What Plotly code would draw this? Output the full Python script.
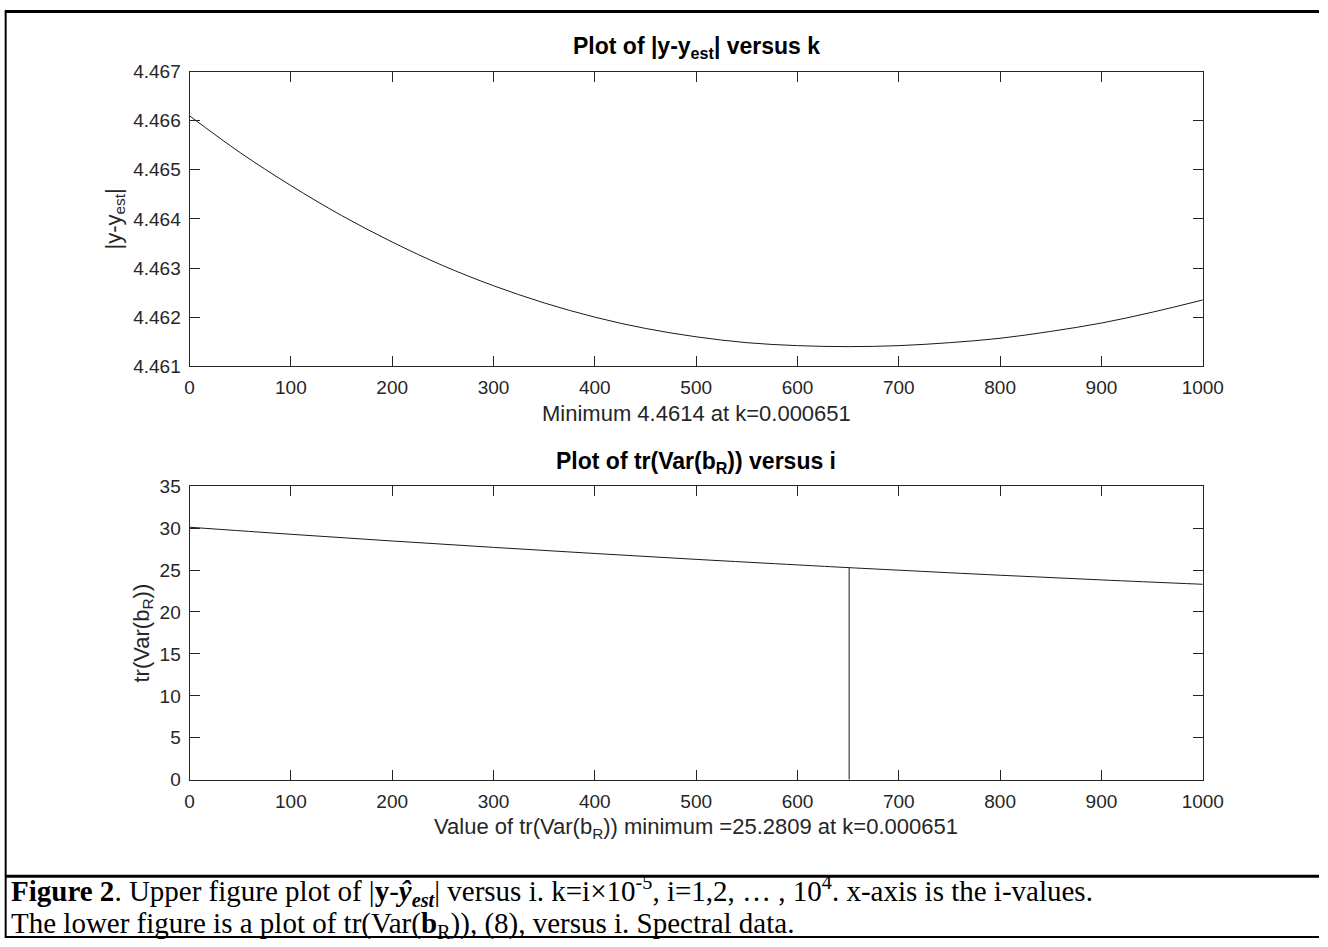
import plotly.graph_objects as go

# ---------------- data ----------------
i_top = [0, 50, 100, 150, 200, 250, 300, 350, 400, 450, 500,
         550, 600, 650, 700, 750, 800, 850, 900, 950, 1000]
resid_norm = [4.46610, 4.46535, 4.46468, 4.46407, 4.46353, 4.46305, 4.46264,
              4.46229, 4.46200, 4.46177, 4.46160, 4.46148, 4.46142, 4.46140,
              4.46142, 4.46148, 4.46157, 4.46171, 4.46188, 4.46210, 4.46235]

i_bot = [0, 100, 200, 300, 400, 500, 600, 651, 700, 800, 900, 1000]
trace_var = [30.10, 29.26, 28.46, 27.70, 26.97, 26.27, 25.61, 25.28,
             24.98, 24.38, 23.82, 23.30]

min_i = 651
min_tr = 25.2809

x_ticks = [0, 100, 200, 300, 400, 500, 600, 700, 800, 900, 1000]
y_ticks_top = [4.461, 4.462, 4.463, 4.464, 4.465, 4.466, 4.467]
y_ticks_bot = [0, 5, 10, 15, 20, 25, 30, 35]

# ---------------- layout helpers ----------------
# measured mapping from figure pixels to the captured picture
OFF = 8
SX, OX = 0.9813, -3.5
SY, OY = 0.979, 1.5
W, H = 1340, 949

def fx(r):
    return (r - OX) / SX - OFF

def fy(r):
    return (r - OY) / SY - OFF

def px(r):
    return min(1.0, max(0.0, fx(r) / W))

def py(r):
    return min(1.0, max(0.0, 1 - fy(r) / H))

AX_L, AX_R = 189, 1203
TOP_T, TOP_B = 71, 366
BOT_T, BOT_B = 486, 780

axis_col = "#262626"
line_col = "#1a1a1a"
font_fam = "Liberation Sans, Arial, sans-serif"

fig = go.Figure()

fig.add_trace(go.Scatter(x=i_top, y=resid_norm, mode="lines",
                         line=dict(color=line_col, width=1, shape="spline"),
                         xaxis="x", yaxis="y", showlegend=False, hoverinfo="skip"))
fig.add_trace(go.Scatter(x=i_bot, y=trace_var, mode="lines",
                         line=dict(color=line_col, width=1, shape="spline"),
                         xaxis="x2", yaxis="y2", showlegend=False, hoverinfo="skip"))
fig.add_trace(go.Scatter(x=[min_i, min_i], y=[0, min_tr], mode="lines",
                         line=dict(color=line_col, width=1),
                         xaxis="x2", yaxis="y2", showlegend=False, hoverinfo="skip"))

common_axis = dict(showgrid=False, zeroline=False, showline=True, linecolor=axis_col,
                   linewidth=1, mirror="ticks", ticks="inside", ticklen=10,
                   tickcolor=axis_col, tickwidth=1,
                   tickfont=dict(family=font_fam, size=19, color=axis_col))

fig.update_layout(
    width=W, height=H,
    margin=dict(l=0, r=0, t=0, b=0),
    paper_bgcolor="white", plot_bgcolor="white",
    xaxis=dict(domain=[px(AX_L), px(AX_R)], range=[0, 1000], tickvals=x_ticks,
               anchor="y", ticklabelstandoff=4, **common_axis),
    yaxis=dict(domain=[py(TOP_B), py(TOP_T)], range=[4.461, 4.467], tickvals=y_ticks_top,
               tickformat=".3f", anchor="x", ticklabelstandoff=4, **common_axis),
    xaxis2=dict(domain=[px(AX_L), px(AX_R)], range=[0, 1000], tickvals=x_ticks,
                anchor="y2", ticklabelstandoff=4, **common_axis),
    yaxis2=dict(domain=[py(BOT_B), py(BOT_T)], range=[0, 35], tickvals=y_ticks_bot,
                anchor="x2", ticklabelstandoff=4, **common_axis),
)

cx = (AX_L + AX_R) / 2
ann = []

def text(x, y, s, size=22, angle=0, xanchor="center", fam=font_fam, color="#262626"):
    ann.append(dict(x=px(x), y=py(y), xref="paper", yref="paper", text=s, showarrow=False,
                    xanchor=xanchor, yanchor="middle", textangle=angle,
                    font=dict(family=fam, size=size, color=color)))

text(cx, 47, "<b>Plot of |y-y<sub>est</sub>| versus k</b>", size=23, color="#000")
text(cx, 413, "Minimum 4.4614 at k=0.000651", size=22)
text(114, (TOP_T + TOP_B) / 2, "|y-y<sub>est</sub>|", size=22, angle=-90)
text(cx, 462, "<b>Plot of tr(Var(b<sub>R</sub>)) versus i</b>", size=23, color="#000")
text(cx, 828, "Value of tr(Var(b<sub>R</sub>)) minimum =25.2809 at k=0.000651", size=22)
text(142, (BOT_T + BOT_B) / 2, "tr(Var(b<sub>R</sub>))", size=22, angle=-90)

serif = "Liberation Serif, Times New Roman, serif"
text(8, 891, "<b>Figure 2</b>. Upper figure plot of |<b>y</b>-<b><i>ŷ<sub>est</sub></i></b>| versus i. "
             "k=i×10<sup>-5</sup>, i=1,2, … , 10<sup>4</sup>. x-axis is the i-values.",
     size=29, xanchor="left", fam=serif, color="#000")
text(8, 925, "The lower figure is a plot of tr(Var(<b>b</b><sub>R</sub>)), (8), versus i. Spectral data.",
     size=29, xanchor="left", fam=serif, color="#000")

fig.update_layout(annotations=ann)

shapes = [
    dict(type="line", xref="paper", yref="paper", x0=0, x1=1, y0=1 - 1.5 / H, y1=1 - 1.5 / H,
         line=dict(color="black", width=3)),
    dict(type="line", xref="paper", yref="paper", x0=px(5), x1=px(5), y0=0, y1=1,
         line=dict(color="black", width=2)),
    dict(type="line", xref="paper", yref="paper", x0=px(5), x1=1, y0=py(876.5), y1=py(876.5),
         line=dict(color="black", width=3)),
    dict(type="line", xref="paper", yref="paper", x0=px(5), x1=1, y0=1.0 / H, y1=1.0 / H,
         line=dict(color="black", width=2)),
]
fig.update_layout(shapes=shapes)

fig.write_html("out.html")
